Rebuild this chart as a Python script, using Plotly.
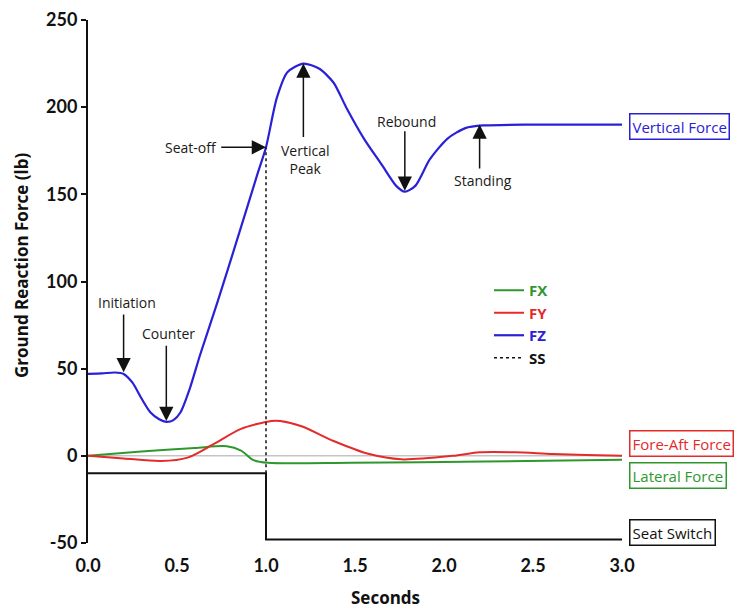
import plotly.graph_objects as go

# Time base (s) and force samples (lb) for each channel
fz_t = [0.0, 0.08, 0.15, 0.20, 0.25, 0.30, 0.35, 0.40, 0.44, 0.48, 0.52, 0.57, 0.63, 0.73,
        0.85, 0.95, 1.00, 1.06, 1.12, 1.21, 1.30, 1.38, 1.45, 1.55, 1.65, 1.73, 1.78, 1.84,
        1.92, 2.02, 2.12, 2.22, 2.50, 3.00]
fz_v = [47, 47.3, 47.8, 47, 42, 33, 25, 21, 19.5, 20.5, 25, 38, 58, 89,
        128, 161, 177, 205, 220, 225, 222, 214, 200, 182, 167, 155, 151.5, 155,
        170, 182, 188, 189.5, 190, 190]

fy_t = [0.0, 0.20, 0.41, 0.56, 0.71, 0.86, 1.03, 1.08, 1.20, 1.38, 1.58, 1.76, 2.05, 2.20,
        2.40, 2.61, 2.80, 3.00]
fy_v = [0, -1.5, -3, -1, 7, 15.5, 20, 20, 17, 8.5, 1, -2, 0, 2,
        2, 1, 0.5, 0]

fx_t = [0.0, 0.30, 0.60, 0.78, 0.86, 0.93, 1.01, 1.48, 2.23, 3.00]
fx_v = [0, 2.5, 4.5, 5.5, 3, -2.5, -4, -4, -3.3, -2.3]

ss_t = [0.0, 1.0, 1.0, 3.0]
ss_v = [-10, -10, -48, -48]

seatoff_t = [1.0, 1.0]
seatoff_v = [-10, 177]

zero_t = [0.0, 3.0]
zero_v = [0, 0]

x_ticks = [0.0, 0.5, 1.0, 1.5, 2.0, 2.5, 3.0]
x_tick_text = ["0.0", "0.5", "1.0", "1.5", "2.0", "2.5", "3.0"]
y_ticks = [-50, 0, 50, 100, 150, 200, 250]

BLUE = "#2a20d6"
RED = "#e42a2a"
GREEN = "#2e982e"
BLACK = "#111111"
TICK_FONT = "Lato"
TEXT_FONT = "Open Sans"

fig = go.Figure()

fig.add_trace(go.Scatter(x=zero_t, y=zero_v, mode="lines", showlegend=False,
                         line=dict(color="#a8a8a8", width=1)))
fig.add_trace(go.Scatter(x=ss_t, y=ss_v, mode="lines", showlegend=False,
                         line=dict(color=BLACK, width=2)))
fig.add_trace(go.Scatter(x=fx_t, y=fx_v, mode="lines", name=f"<span style='color:{GREEN}'><b>FX</b></span>",
                         line=dict(color=GREEN, width=2, shape="spline", smoothing=0.8)))
fig.add_trace(go.Scatter(x=fy_t, y=fy_v, mode="lines", name=f"<span style='color:{RED}'><b>FY</b></span>",
                         line=dict(color=RED, width=2, shape="spline", smoothing=0.8)))
fig.add_trace(go.Scatter(x=fz_t, y=fz_v, mode="lines", name=f"<span style='color:{BLUE}'><b>FZ</b></span>",
                         line=dict(color=BLUE, width=2.2, shape="spline", smoothing=0.7)))
fig.add_trace(go.Scatter(x=seatoff_t, y=seatoff_v, mode="lines", name="<b>SS</b>",
                         line=dict(color=BLACK, width=1.5, dash="dot")))

# Event arrows: (label, tip_t, tip_v, tail_t, tail_v, text_t, text_v, anchor)
events = [
    ("Initiation", 0.20, 48, 0.20, 82, 0.22, 88, "center"),
    ("Counter", 0.44, 20, 0.44, 64, 0.45, 70, "center"),
    ("Seat-off", 1.0, 177, 0.74, 177, 0.735, 177, "right"),
    ("Vertical<br>Peak", 1.21, 225, 1.21, 182, 1.22, 170, "center"),
    ("Rebound", 1.78, 152, 1.78, 187, 1.79, 192, "center"),
    ("Standing", 2.20, 190, 2.20, 164, 2.22, 158, "center"),
]

annotations = []
for label, tx, tv, ax, av, lx, lv, anc in events:
    annotations.append(dict(x=tx, y=tv, ax=ax, ay=av, xref="x", yref="y", axref="x", ayref="y",
                            text="", showarrow=True, arrowhead=2, arrowsize=1.9, arrowwidth=1.5,
                            arrowcolor=BLACK, standoff=0, startstandoff=0))
    annotations.append(dict(x=lx, y=lv, xref="x", yref="y", text=label, showarrow=False,
                            xanchor=anc, yanchor="middle",
                            font=dict(family=TEXT_FONT, size=14, color="#1a1a1a")))

# Channel labels at the right end of each trace
boxes = [
    ("Vertical Force", 189, BLUE),
    ("Fore-Aft Force", 7, RED),
    ("Lateral Force", -11, GREEN),
    ("Seat Switch", -44, BLACK),
]
for label, v, col in boxes:
    annotations.append(dict(x=3.04, y=v, xref="x", yref="y", text=label, showarrow=False,
                            xanchor="left", yanchor="middle", bordercolor=col, borderwidth=1.5,
                            borderpad=2, font=dict(family=TEXT_FONT, size=15, color=col)))

annotations.append(dict(x=(385 - 88) / 651, y=(543 - 597) / 523, xref="paper", yref="paper",
                        text="<b>Seconds</b>", showarrow=False, xanchor="center", yanchor="middle",
                        font=dict(family=TEXT_FONT, size=17, color=BLACK)))
annotations.append(dict(x=(21 - 88) / 651, y=(543 - 265) / 523, xref="paper", yref="paper",
                        text="<b>Ground Reaction Force (lb)</b>", showarrow=False, textangle=-90,
                        xanchor="center", yanchor="middle",
                        font=dict(family=TEXT_FONT, size=17, color=BLACK)))

fig.update_layout(
    width=739, height=610,
    margin=dict(l=88, r=0, t=20, b=67),
    plot_bgcolor="white", paper_bgcolor="white",
    font=dict(family=TEXT_FONT, color=BLACK),
    annotations=annotations,
    legend=dict(x=(489 - 88) / 651, y=(543 - 274) / 523, xanchor="left", yanchor="top",
                bgcolor="rgba(0,0,0,0)", font=dict(family=TEXT_FONT, size=15, color=BLACK),
                tracegroupgap=0, itemwidth=30),
    xaxis=dict(range=[0, 651 / 178], showline=False, showgrid=False, zeroline=False,
               tickvals=x_ticks, ticktext=[f"<b>{t}</b>" for t in x_tick_text],
               ticks="outside", ticklen=6, tickcolor="rgba(0,0,0,0)",
               tickfont=dict(family=TICK_FONT, size=18, color=BLACK)),
    yaxis=dict(range=[-50, 250], showline=True, linecolor=BLACK, linewidth=2,
               showgrid=False, zeroline=False, tickvals=y_ticks,
               ticktext=[f"<b>{t}</b>" for t in y_ticks],
               ticks="outside", ticklen=5, tickwidth=2, tickcolor=BLACK,
               tickfont=dict(family=TICK_FONT, size=18, color=BLACK)),
)

fig.write_html("out.html")
